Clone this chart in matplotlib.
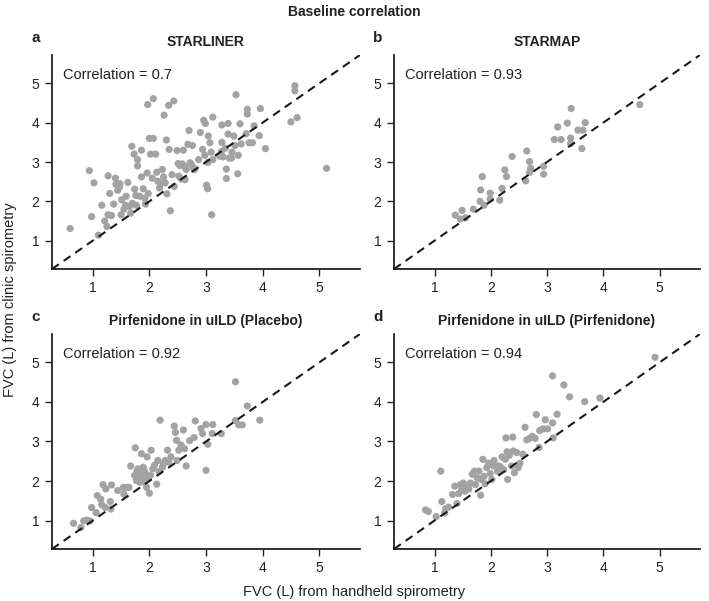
import matplotlib
matplotlib.use("Agg")
import matplotlib.pyplot as plt

plt.rcParams['font.family'] = ['Liberation Sans', 'DejaVu Sans']

titles = ["STARLINER", "STARMAP", "Pirfenidone in uILD (Placebo)", "Pirfenidone in uILD (Pirfenidone)"]
letters = ["a", "b", "c", "d"]
correlations = ["0.7", "0.93", "0.92", "0.94"]
tick_values = [1, 2, 3, 4, 5]

starliner_x = [0.60, 0.94, 1.02, 0.98, 1.10, 1.16, 1.21, 1.27, 1.30, 1.25, 1.27, 1.33, 1.37, 1.40, 1.44, 1.48, 1.47,
               1.50, 1.51, 1.59, 1.58, 1.62, 1.65, 1.67, 1.69, 1.73, 1.74, 1.76, 1.79, 1.79, 1.77, 1.83, 1.86, 1.86,
               1.89, 1.92, 1.93, 1.96, 1.98, 1.97, 2.00, 2.02, 2.07, 2.07, 2.11, 2.05, 2.13, 2.15, 2.18, 2.23, 2.25,
               2.26, 2.28, 2.30, 2.31, 2.34, 2.35, 2.37, 2.40, 2.43, 2.44, 2.49, 2.51, 2.52, 2.54, 2.56, 2.60, 2.62,
               2.63, 2.65, 2.68, 2.70, 2.72, 2.74, 2.76, 2.77, 2.80, 2.87, 2.90, 2.94, 2.96, 2.98, 2.99, 3.01, 3.03,
               3.03, 3.04, 3.07, 3.09, 3.10, 3.12, 3.12, 3.24, 3.27, 3.28, 3.28, 3.30, 3.34, 3.36, 3.36, 3.39, 3.39,
               3.41, 3.45, 3.46, 3.49, 3.51, 3.53, 3.56, 3.57, 3.60, 3.62, 3.71, 3.73, 3.73, 3.76, 3.82, 3.85, 3.96,
               3.94, 4.05, 4.50, 4.57, 4.57, 4.61, 5.13, 1.41, 1.55, 1.70, 2.20, 2.58]
starliner_y = [1.31, 2.78, 2.47, 1.61, 1.14, 1.90, 1.50, 2.65, 2.20, 1.36, 1.66, 1.64, 1.93, 2.59, 2.28, 2.45, 2.36,
               1.66, 2.04, 2.13, 1.90, 2.48, 1.87, 1.70, 3.40, 3.20, 2.31, 2.15, 3.06, 2.90, 1.90, 2.13, 3.30, 2.62,
               2.32, 2.08, 1.93, 2.72, 2.20, 4.46, 3.60, 3.20, 3.60, 4.61, 3.20, 2.59, 2.74, 2.51, 2.34, 2.81, 2.62,
               4.19, 2.47, 3.56, 2.19, 4.44, 3.32, 1.76, 2.68, 4.55, 2.38, 3.29, 2.96, 2.64, 2.91, 2.57, 3.30, 2.89,
               2.55, 2.81, 3.45, 3.80, 2.98, 2.94, 3.42, 2.87, 2.81, 3.06, 3.75, 3.32, 4.06, 3.17, 3.98, 2.41, 2.32,
               2.99, 3.66, 3.49, 3.25, 1.66, 4.14, 3.06, 3.15, 3.26, 3.94, 3.50, 3.13, 3.35, 2.82, 2.58, 3.98, 3.71,
               3.10, 3.10, 3.25, 3.66, 3.42, 4.71, 2.70, 3.17, 3.97, 3.46, 3.72, 4.34, 4.22, 3.49, 3.49, 3.92, 4.36,
               3.67, 3.34, 4.02, 4.94, 4.81, 4.13, 2.84, 2.43, 1.80, 1.95, 2.45, 2.95]

starmap_x = [1.37, 1.46, 1.49, 1.55, 1.69, 1.81, 1.82, 1.85, 1.88, 1.99, 1.99, 2.16, 2.20, 2.25, 2.28, 2.38, 2.62,
             2.64, 2.69, 2.69, 2.71, 2.94, 2.94, 3.13, 3.25, 3.19, 3.36, 3.42, 3.42, 3.43, 3.55, 3.62, 3.64, 3.68, 4.65]
starmap_y = [1.65, 1.55, 1.77, 1.58, 1.80, 2.00, 2.29, 2.63, 1.90, 2.21, 2.06, 2.03, 2.33, 2.80, 2.63, 3.14, 2.52,
             3.28, 3.01, 2.74, 2.84, 2.89, 2.69, 3.57, 3.57, 3.89, 3.99, 3.61, 3.47, 4.36, 3.81, 3.34, 3.81, 4.00, 4.46]

placebo_x = [0.66, 0.79, 0.84, 0.89, 0.95, 0.98, 1.06, 1.08, 1.14, 1.16, 1.18, 1.23, 1.22, 1.31, 1.33, 1.32, 1.44,
             1.54, 1.55, 1.60, 1.64, 1.67, 1.75, 1.74, 1.77, 1.80, 1.81, 1.83, 1.84, 1.86, 1.88, 1.89, 1.91, 1.92,
             1.93, 1.95, 1.96, 1.98, 2.00, 2.03, 2.06, 2.09, 2.13, 2.15, 2.17, 2.19, 2.23, 2.25, 2.28, 2.32, 2.34,
             2.38, 2.44, 2.46, 2.48, 2.49, 2.52, 2.56, 2.60, 2.62, 2.65, 2.71, 2.79, 2.81, 2.91, 2.94, 3.00, 3.00,
             3.03, 3.11, 3.12, 3.27, 3.52, 3.52, 3.58, 3.64, 3.73, 3.95, 1.78, 1.85, 1.90, 2.02]
placebo_y = [0.93, 0.82, 0.99, 1.01, 0.99, 1.33, 1.20, 1.63, 1.54, 1.40, 1.91, 1.80, 1.33, 1.48, 1.90, 1.29, 1.76,
             1.84, 1.67, 1.84, 1.84, 2.38, 2.84, 2.14, 2.01, 2.31, 2.14, 1.97, 2.23, 2.69, 2.11, 2.35, 1.97, 2.23,
             2.10, 1.84, 2.61, 2.06, 1.69, 2.78, 2.31, 2.40, 1.92, 2.52, 2.24, 3.54, 2.35, 2.44, 2.52, 2.78, 2.48,
             2.61, 3.39, 3.23, 3.03, 2.52, 2.78, 2.91, 3.29, 2.82, 2.38, 3.02, 3.10, 3.52, 3.33, 3.20, 3.43, 2.27,
             2.93, 3.20, 3.43, 3.20, 4.51, 3.53, 3.42, 3.42, 3.90, 3.54, 2.25, 2.05, 2.30, 2.15]

pirf_x = [0.84, 0.89, 1.03, 1.11, 1.13, 1.18, 1.20, 1.25, 1.32, 1.36, 1.40, 1.43, 1.46, 1.48, 1.51, 1.54, 1.57, 1.61,
          1.64, 1.67, 1.71, 1.73, 1.76, 1.79, 1.82, 1.83, 1.86, 1.88, 1.90, 1.93, 1.96, 1.99, 2.02, 2.05, 2.06, 2.12,
          2.14, 2.17, 2.20, 2.23, 2.26, 2.27, 2.29, 2.30, 2.33, 2.37, 2.39, 2.40, 2.42, 2.46, 2.49, 2.52, 2.57, 2.61,
          2.64, 2.69, 2.74, 2.79, 2.81, 2.86, 2.87, 2.93, 2.97, 3.01, 3.10, 3.11, 3.10, 3.18, 3.30, 3.40, 3.67, 3.94,
          4.92]
pirf_y = [1.27, 1.23, 1.10, 2.25, 1.48, 1.19, 1.30, 1.34, 1.66, 1.87, 1.43, 1.68, 1.91, 1.78, 1.95, 1.74, 1.87, 1.80,
          1.95, 2.17, 2.25, 1.91, 2.08, 2.25, 1.64, 2.04, 2.55, 2.12, 1.93, 2.34, 2.45, 2.19, 2.04, 2.38, 2.52, 2.25,
          2.38, 2.36, 2.61, 2.29, 2.55, 3.09, 2.74, 2.04, 2.65, 2.38, 3.11, 2.76, 2.21, 2.72, 2.34, 2.45, 2.68, 3.36,
          3.04, 3.08, 3.13, 3.08, 3.68, 2.85, 3.28, 3.32, 3.55, 3.32, 3.47, 3.09, 4.66, 3.69, 4.43, 4.13, 4.01, 4.10,
          5.13]

datasets = [(starliner_x, starliner_y), (starmap_x, starmap_y), (placebo_x, placebo_y), (pirf_x, pirf_y)]

W, H = 709, 601
fig = plt.figure(figsize=(W / 100, H / 100), dpi=100)

boxes = [(52, 55, 360, 269), (394, 55, 700, 269), (52, 334, 360, 549), (394, 334, 700, 549)]
lo, hi = 0.28, 5.72
point_color = "#a3a3a3"

for i, (box, (xs, ys)) in enumerate(zip(boxes, datasets)):
    l, t, r, b = box
    ax = fig.add_axes([l / W, 1 - b / H, (r - l) / W, (b - t) / H])
    ax.scatter(xs, ys, s=27, color=point_color, edgecolors='none', zorder=2)
    ax.axline((1, 1), slope=1, color="#1a1a1a", lw=1.5, dashes=(4, 2.8), zorder=3)
    ax.set_xlim(lo, hi)
    ax.set_ylim(lo, hi)
    ax.set_xticks(tick_values)
    ax.set_yticks(tick_values)
    ax.set_xticklabels([str(v) for v in tick_values])
    ax.set_yticklabels([str(v) for v in tick_values])
    for s in ["top", "right"]:
        ax.spines[s].set_visible(False)
    for s in ["left", "bottom"]:
        ax.spines[s].set_linewidth(1.3)
        ax.spines[s].set_color("#222222")
    ax.tick_params(direction='out', length=5, width=1, labelsize=10, colors="#222222", pad=4)
    ax.text(0.036, 0.905, "Correlation = " + correlations[i], transform=ax.transAxes,
            fontsize=10.5, ha='left', va='center', color="#222222")
    ax.set_title(titles[i], fontsize=10, fontweight='bold', pad=0, y=1.04, color="#222222")
    fig.text((l - 16) / W, 1 - (t - 17) / H, letters[i], fontsize=11, fontweight='bold',
             ha='center', va='center', color="#222222")

fig.text(354 / W, 1 - 12 / H, "Baseline correlation", fontsize=10, fontweight='bold',
         ha='center', va='center', color="#222222")
fig.text(354 / W, 1 - 592 / H, "FVC (L) from handheld spirometry", fontsize=10.5,
         ha='center', va='center', color="#222222")
fig.text(10 / W, 1 - 300 / H, "FVC (L) from clinic spirometry", fontsize=10.5, rotation=90,
         ha='center', va='center', color="#222222")

fig.savefig("out.png", dpi=100)
